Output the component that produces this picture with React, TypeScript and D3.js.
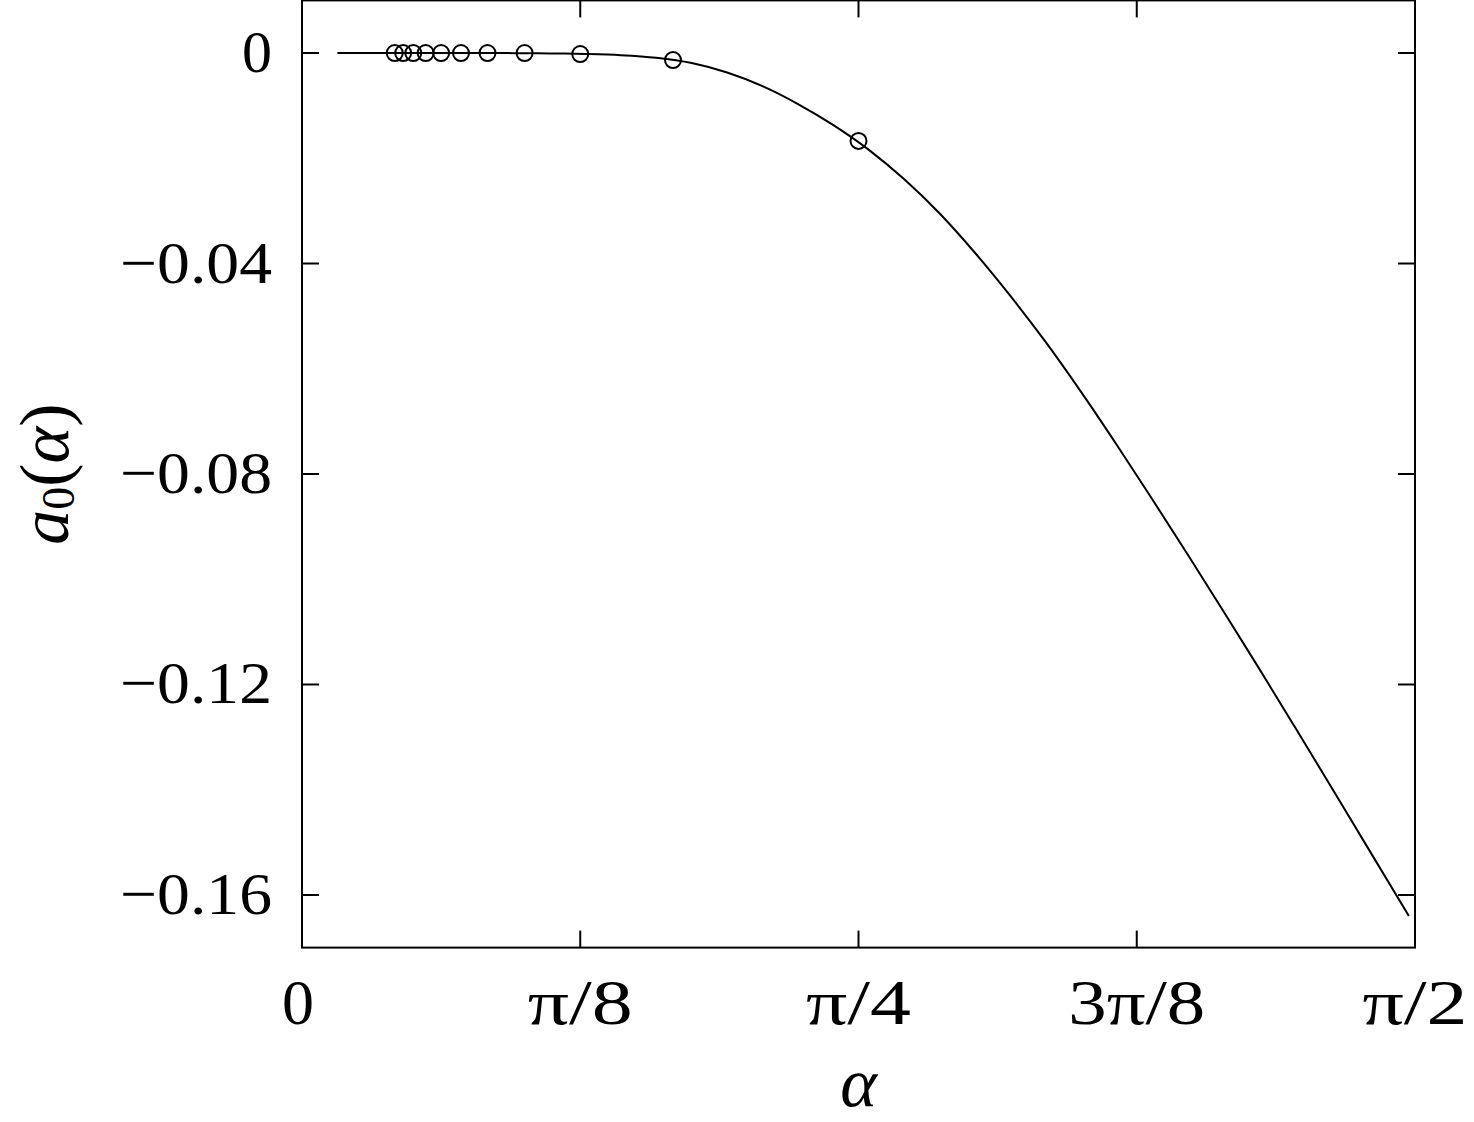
import React from "react";
import { scaleLinear, line, curveMonotoneX } from "d3";

// solid curve a0(alpha)
const curveAlpha = [
  0.05, 0.15, 0.25, 0.3, 0.35, 0.4, 0.45, 0.5, 0.55, 0.6, 0.65, 0.7, 0.75,
  0.8, 0.85, 0.9, 0.95, 1.0, 1.05, 1.1, 1.15, 1.2, 1.25, 1.3, 1.35, 1.4, 1.45,
  1.5, 1.5622
];
const curveValue = [
  0, 0, 0, -0.00002, -0.00008, -0.00018, -0.0004, -0.0009, -0.0019, -0.0037,
  -0.0063, -0.0097, -0.0137, -0.0184, -0.024, -0.0305, -0.038, -0.0462,
  -0.055, -0.0645, -0.0745, -0.0848, -0.0953, -0.106, -0.1168, -0.1278,
  -0.1389, -0.1501, -0.164
];

// open circles at alpha = pi/n
const pointN = [24, 22, 20, 18, 16, 14, 12, 10, 8, 6, 4];
const pointValue = [0, 0, 0, 0, 0, 0, 0, 0, -0.0002, -0.00133, -0.0167];

const xTicks = [0, Math.PI / 8, Math.PI / 4, (3 * Math.PI) / 8, Math.PI / 2];
const xTickLabels = ["0", "π/8", "π/4", "3π/8", "π/2"];
const yTicks = [0, -0.04, -0.08, -0.12, -0.16];
const yTickLabels = ["0", "−0.04", "−0.08", "−0.12", "−0.16"];

export default function App() {
  const width = 1474,
    height = 1122,
    left = 302,
    right = 1415,
    top = 0.4,
    bottom = 947.6,
    tickLen = 17;
  const font = "'Liberation Serif', 'Times New Roman', serif";

  const x = scaleLinear().domain([0, Math.PI / 2]).range([left, right]);
  const y = scaleLinear().domain([-0.17, 0.01]).range([bottom, top]);

  const curve = curveAlpha.map((a, i) => [a, curveValue[i]] as [number, number]);
  const path = line<[number, number]>()
    .x(d => x(d[0]))
    .y(d => y(d[1]))
    .curve(curveMonotoneX)(curve);

  // rough widths of the labels in the original (wider serif face)
  const xLabelWidth = (s: string) => (s === "0" ? undefined : s.length === 4 ? 137 : 105);

  return (
    <svg
      width={width}
      height={height}
      style={{ position: "absolute", left: 0, top: 0, background: "#fff" }}
    >
      <path d={path || ""} fill="none" stroke="#000" strokeWidth={2} />
      {pointN.map((n, i) => (
        <circle
          key={n}
          cx={x(Math.PI / n)}
          cy={y(pointValue[i])}
          r={8}
          fill="none"
          stroke="#000"
          strokeWidth={2}
        />
      ))}
      {xTicks.map((t, i) => (
        <g key={"x" + i}>
          <line x1={x(t)} x2={x(t)} y1={bottom} y2={bottom - tickLen} stroke="#000" strokeWidth={2} />
          <line x1={x(t)} x2={x(t)} y1={top} y2={top + tickLen} stroke="#000" strokeWidth={2} />
          <text
            x={i === 0 ? x(t) - 4 : x(t)}
            y={1024}
            textAnchor="middle"
            fontFamily={font}
            fontSize={64}
            textLength={xLabelWidth(xTickLabels[i])}
            lengthAdjust="spacingAndGlyphs"
          >
            {xTickLabels[i]}
          </text>
        </g>
      ))}
      {yTicks.map((t, i) => (
        <g key={"y" + i}>
          <line x1={left} x2={left + tickLen} y1={y(t)} y2={y(t)} stroke="#000" strokeWidth={2} />
          <line x1={right} x2={right - tickLen} y1={y(t)} y2={y(t)} stroke="#000" strokeWidth={2} />
          <text
            x={272}
            y={y(t) + 19}
            textAnchor="end"
            fontFamily={font}
            fontSize={60}
            textLength={i === 0 ? undefined : 152}
            lengthAdjust="spacingAndGlyphs"
          >
            {yTickLabels[i]}
          </text>
        </g>
      ))}
      <rect
        x={left}
        y={top}
        width={right - left}
        height={bottom - top}
        fill="none"
        stroke="#000"
        strokeWidth={2}
      />
      <text
        x={(left + right) / 2}
        y={1106}
        textAnchor="middle"
        fontFamily={font}
        fontSize={70}
        fontStyle="italic"
      >
        α
      </text>
      <text
        transform={`translate(68, ${(top + bottom) / 2}) rotate(-90)`}
        textAnchor="middle"
        fontFamily={font}
        fontSize={70}
      >
        <tspan fontStyle="italic">a</tspan>
        <tspan fontSize={46} dy={6}>0</tspan>
        <tspan dy={-6}>(</tspan>
        <tspan fontStyle="italic">α</tspan>
        <tspan>)</tspan>
      </text>
    </svg>
  );
}
